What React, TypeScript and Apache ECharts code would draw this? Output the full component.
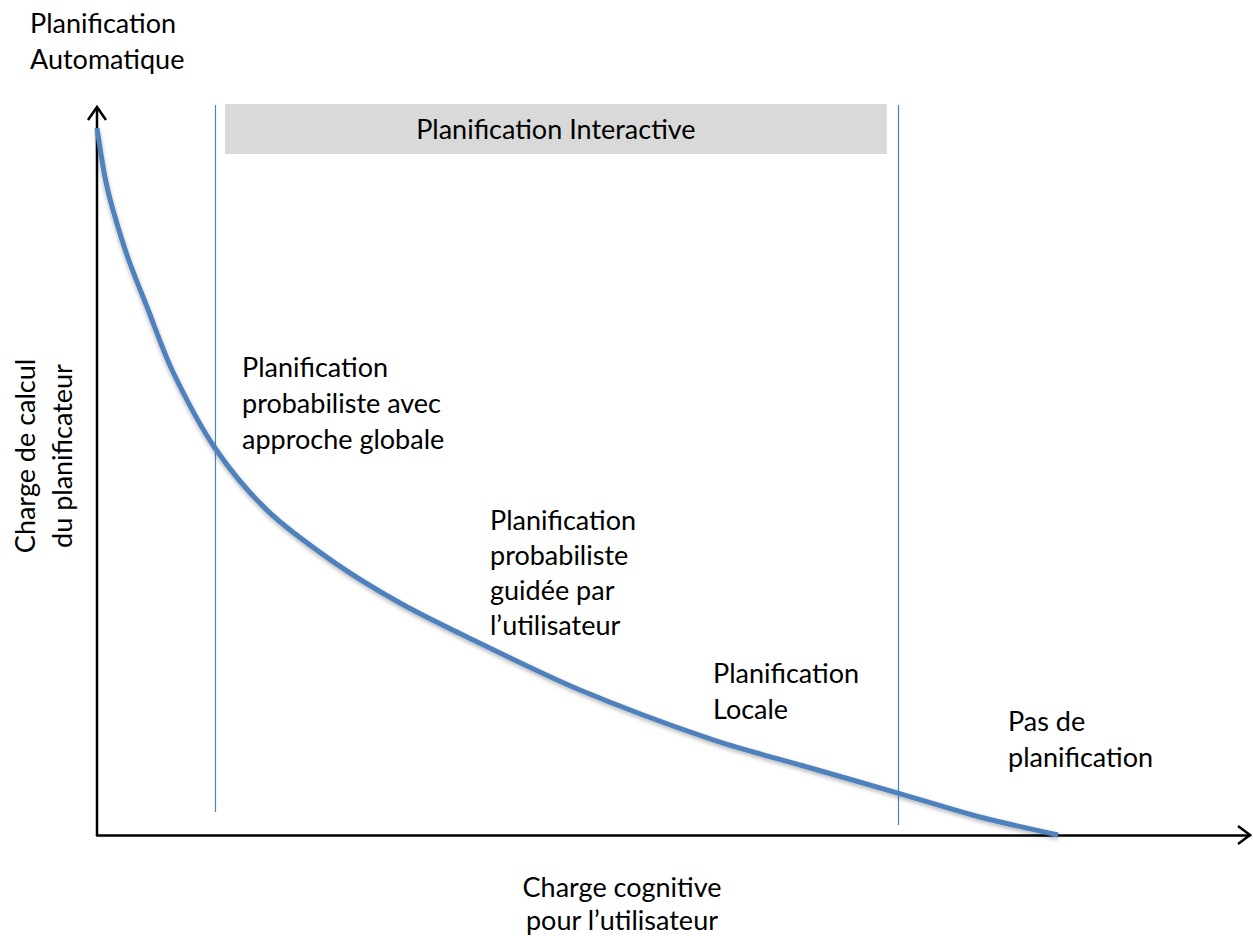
import React, { useEffect, useRef } from "react";
import * as echarts from "echarts";

// Curve: "Charge cognitive" (x) vs "Charge de calcul" (y), 0..100 scale
const curveX = [0, 0.69, 1.39, 2.69, 4.34, 6.59, 10.23, 14.74, 20.47, 26.28, 32.09, 41.89, 53.43, 60.98, 69.47, 76.58, 83.35];
const curveY = [96.19, 89.52, 85.03, 78.5, 71.84, 62.99, 52.65, 44.2, 37.2, 31.56, 26.94, 19.73, 12.93, 9.52, 5.71, 2.45, 0];

// Region dividers (x positions) with their vertical extent
const dividerX = [10.23, 69.5];
const dividerBottom = [3.13, 1.36];
const dividerTop = [99.32, 99.32];

// Interactive planning band
const bandName = "Planification Interactive";
const bandX = [11.1, 68.5];
const bandY = [92.65, 99.46];

const curveLabels = [
  "Planification\nprobabiliste avec\napproche globale",
  "Planification\nprobabiliste\nguidée par\nl\u2019utilisateur",
  "Planification\nLocale",
  "Pas de\nplanification",
];

const FONT = "Lato, 'Open Sans', sans-serif";
const FS = 27;

export default function App() {
  const ref = useRef<HTMLDivElement>(null);
  useEffect(() => {
    if (!ref.current) return;
    const chart = echarts.init(ref.current, undefined, { renderer: "svg" });
    const data = curveX.map((x, i) => [x, curveY[i]]);
    const textEl = (x: number, y: number, text: string, extra: any = {}) => ({
      type: "text",
      x,
      y,
      style: {
        text,
        fill: "#000",
        font: `${FS}px ${FONT}`,
        lineHeight: 36,
        textVerticalAlign: "top",
        ...extra,
      },
    });
    chart.setOption({
      animation: false,
      grid: { left: 97, right: 3, top: 100, bottom: 101, containLabel: false },
      xAxis: {
        type: "value",
        min: 0,
        max: 100,
        axisLine: { show: true, lineStyle: { color: "#000", width: 2.5 } },
        axisTick: { show: false },
        axisLabel: { show: false },
        splitLine: { show: false },
      },
      yAxis: {
        type: "value",
        min: 0,
        max: 100,
        axisLine: { show: false },
        axisTick: { show: false },
        axisLabel: { show: false },
        splitLine: { show: false },
      },
      series: [
        {
          type: "line",
          data,
          smooth: 0.3,
          symbol: "none",
          clip: false,
          z: 5,
          lineStyle: {
            color: "#4f81bd",
            width: 5,
            shadowColor: "rgba(0,0,0,0.3)",
            shadowBlur: 4,
            shadowOffsetY: 2,
          },
          markLine: {
            silent: true,
            symbol: ["none", "none"],
            label: { show: false },
            lineStyle: { color: "#4f81bd", width: 1.2, type: "solid" },
            data: dividerX.map((x, i) => [
              { coord: [x, dividerBottom[i]] },
              { coord: [x, dividerTop[i]] },
            ]),
          },
          markArea: {
            silent: true,
            itemStyle: { color: "#d9d9d9" },
            label: {
              show: true,
              position: "inside",
              color: "#000",
              fontSize: FS,
              fontFamily: FONT,
            },
            data: [
              [
                { name: bandName, coord: [bandX[0], bandY[0]] },
                { coord: [bandX[1], bandY[1]] },
              ],
            ],
          },
        },
      ],
      graphic: [
        // y axis line and arrow heads
        {
          type: "line",
          shape: { x1: 97, y1: 836, x2: 97, y2: 108 },
          style: { stroke: "#000", lineWidth: 2.5 },
        },
        {
          type: "polyline",
          shape: { points: [[88, 120], [97, 107], [106, 120]] },
          style: { stroke: "#000", lineWidth: 2.5, fill: "none" },
        },
        {
          type: "polyline",
          shape: { points: [[1238, 826], [1250, 835], [1238, 844]] },
          style: { stroke: "#000", lineWidth: 2.5, fill: "none" },
        },
        textEl(30, 4, "Planification\nAutomatique"),
        {
          type: "text",
          x: 43,
          y: 456,
          rotation: Math.PI / 2,
          style: {
            text: "Charge de calcul\ndu planificateur",
            fill: "#000",
            font: `${FS}px ${FONT}`,
            lineHeight: 37,
            textAlign: "center",
            textVerticalAlign: "middle",
          },
        },
        {
          type: "text",
          x: 622,
          y: 903,
          style: {
            text: "Charge cognitive\npour l\u2019utilisateur",
            fill: "#000",
            font: `${FS}px ${FONT}`,
            lineHeight: 33,
            textAlign: "center",
            textVerticalAlign: "middle",
          },
        },
        textEl(242, 348, curveLabels[0]),
        textEl(490, 502, curveLabels[1], { lineHeight: 35 }),
        textEl(713, 654, curveLabels[2]),
        textEl(1008, 702, curveLabels[3]),
      ],
    });
    return () => chart.dispose();
  }, []);
  return <div ref={ref} style={{ width: 1253, height: 936, position: "absolute", left: 0, top: 0 }} />;
}
